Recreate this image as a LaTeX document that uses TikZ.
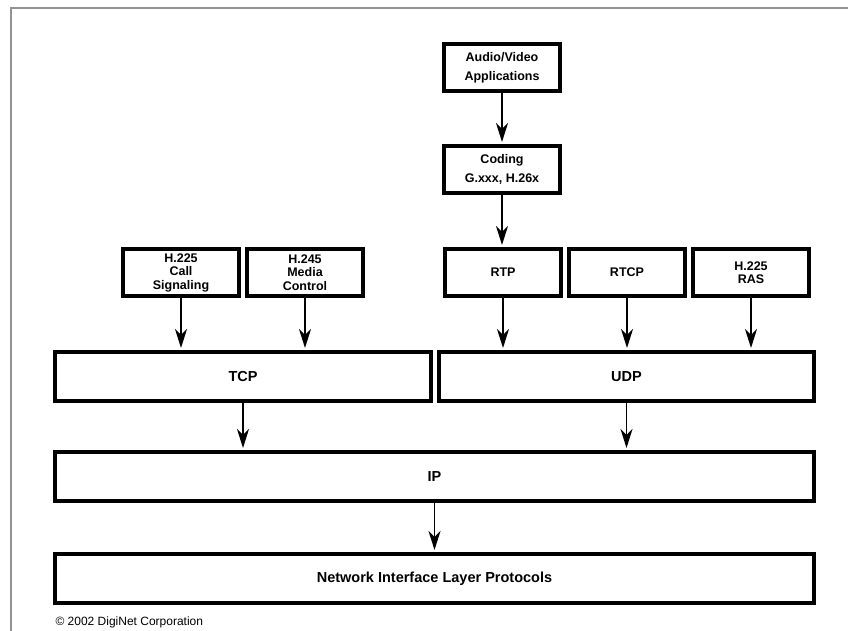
\documentclass[tikz,border=0pt]{standalone}
\usepackage{fontspec}
\setmainfont{Liberation Sans}
\usepackage{tikz}
\usetikzlibrary{arrows.meta}

\begin{document}
\begin{tikzpicture}[x=1pt,y=-1pt,>={Stealth[length=19pt,width=12pt,inset=6pt]},
  proto/.style={draw,line width=4pt,minimum width=116pt,minimum height=47pt,
    inner sep=0pt,align=center,font=\bfseries\fontsize{12.5}{13.5}\selectfont},
  app/.style={proto,font=\bfseries\fontsize{12.5}{19}\selectfont},
  layer/.style={proto,minimum height=49pt,font=\bfseries\fontsize{14.5}{17}\selectfont},
  flow/.style={->,line width=1.4pt,shorten >=2pt}]
  \useasboundingbox (0,0) rectangle (848,631);
  \draw[gray!85,line width=1.3pt] (11,631) -- (11,8) -- (848,8);

  \node[app] (av) at (502,67.5) {Audio/Video\\Applications};
  \node[app] (coding) at (502,169.5) {Coding\\G.xxx, H.26x};

  \node[proto] (h225cs) at (181,272.5) {H.225\\Call\\Signaling};
  \node[proto] (h245) at (305,272.5) {H.245\\Media\\Control};
  \node[proto] (rtp) at (503,272.5) {RTP};
  \node[proto] (rtcp) at (627,272.5) {RTCP};
  \node[proto] (ras) at (751,272.5) {H.225\\RAS};

  \node[layer,minimum width=376pt] (tcp) at (243,376.5) {TCP};
  \node[layer,minimum width=375pt] (udp) at (626.5,376.5) {UDP};
  \node[layer,minimum width=759pt] (ip) at (434.5,476.5) {IP};
  \node[layer,minimum width=759pt] (nil) at (434.5,578.5) {Network Interface Layer Protocols};

  \node[anchor=west,font=\fontsize{12}{14}\selectfont] (copy) at (52,622) {© 2002 DigiNet Corporation};

  \draw[flow] (av) -- (coding);
  \draw[flow] (coding.south) -- (coding.south |- rtp.north);
  \draw[flow] (h225cs.south) -- (h225cs.south |- tcp.north);
  \draw[flow] (h245.south) -- (h245.south |- tcp.north);
  \draw[flow] (rtp.south) -- (rtp.south |- udp.north);
  \draw[flow] (rtcp.south) -- (rtcp.south |- udp.north);
  \draw[flow] (ras.south) -- (ras.south |- udp.north);
  \draw[flow] (tcp.south) -- (tcp.south |- ip.north);
  \draw[flow] (udp.south) -- (udp.south |- ip.north);
  \draw[flow] (ip) -- (nil);
\end{tikzpicture}
\end{document}
